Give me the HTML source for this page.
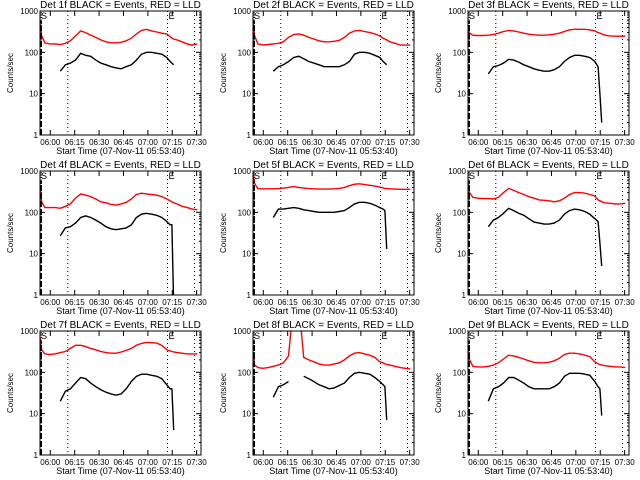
<!DOCTYPE html>
<html><head><meta charset="utf-8"><style>
html,body{margin:0;padding:0;background:#fff;}
svg{display:block;font-family:"Liberation Sans",sans-serif;}
</style></head><body>
<svg id="c" width="640" height="480"></svg>
<script>
const T=[0,1,3,6,9.4,12.5,15.6,18.7,21.8,25,28.1,31.2,34.3,37.4,40.6,43.7,46.8,49.9,53,56.2,59.3,62.4,65.5,68.6,71.8,74.9,78,80,81.1,82.2,84.2,87.4,90.5,93.6,96.7];
const n=null;
const titles=["Det 1f","Det 2f","Det 3f","Det 4f","Det 5f","Det 6f","Det 7f","Det 8f","Det 9f"];
const xTickLabels=["06:00","06:15","06:30","06:45","07:00","07:15","07:30"];
const xTickTimes=[6.33,21.33,36.33,51.33,66.33,81.33,96.33];
const yTickLabels=["1","10","100","1000"];
const yTickValues=[1,10,100,1000];
const markerTimes=[17.1,78.4,95];
const red1=[600,250,170,160,160,155,165,190,250,330,300,260,230,200,180,170,170,175,190,220,280,340,360,330,310,290,280,240,220,210,200,180,160,150,160];
const blk1=[n,n,n,n,n,35,50,55,65,95,85,80,65,55,50,45,42,40,45,50,65,90,100,100,95,90,75,60,55,50,n,n,n,n,n];
const red2=[600,250,160,150,155,160,165,180,230,270,280,260,230,210,190,180,180,185,195,230,290,330,340,320,300,280,250,220,210,200,180,165,150,150,150];
const blk2=[n,n,n,n,n,35,45,50,60,75,80,70,60,55,50,45,45,45,45,50,60,90,100,100,95,85,75,60,55,50,n,n,n,n,n];
const red3=[400,290,260,255,255,260,270,290,320,340,330,310,290,275,265,260,260,265,275,290,320,350,360,360,360,350,330,300,290,280,260,250,245,245,245];
const blk3=[n,n,n,n,n,30,45,48,55,68,65,58,50,45,40,37,35,35,38,45,60,75,85,85,80,75,60,45,10,2,n,n,n,n,n];
const red4=[450,180,130,130,130,125,140,160,220,280,260,240,210,180,170,155,150,160,175,210,270,290,280,270,260,240,210,190,180,170,160,140,130,120,115];
const blk4=[n,n,n,n,n,27,42,45,55,75,82,75,65,55,45,40,38,40,42,50,75,90,95,90,85,75,60,50,50,0.5,n,n,n,n,n];
const red5=[1000,500,370,370,370,370,375,385,400,420,400,385,375,370,365,365,365,370,380,400,440,480,490,470,450,430,410,390,380,375,370,365,360,360,360];
const blk5=[n,n,n,n,n,75,120,120,125,130,125,115,110,105,100,100,100,100,105,110,130,160,175,175,165,150,130,120,110,13,n,n,n,n,n];
const red6=[600,300,230,220,215,215,210,230,300,380,340,300,270,240,220,200,195,190,180,190,220,270,300,300,290,270,250,200,190,180,170,165,160,160,165];
const blk6=[n,n,n,n,n,45,65,75,95,125,110,95,85,70,58,55,52,52,55,65,90,110,120,115,105,90,70,60,18,5,n,n,n,n,n];
const red7=[700,350,280,270,280,300,320,380,450,450,420,380,350,320,300,290,290,310,340,380,450,500,530,520,510,450,350,330,320,310,300,290,280,280,280];
const blk7=[n,n,n,n,n,20,35,40,55,75,70,55,45,38,33,30,28,30,40,60,80,90,90,85,80,70,50,40,40,4,n,n,n,n,n];
const red8=[300,150,130,125,130,140,150,170,250,5000,5000,230,200,180,160,150,150,160,170,200,250,290,300,280,260,230,180,170,160,155,150,140,130,125,120];
const blk8=[n,n,n,n,n,25,45,50,60,n,n,80,70,60,50,45,40,42,48,55,75,95,100,95,90,75,60,50,45,7,n,n,n,n,n];
const red9=[400,200,140,135,135,140,150,170,210,260,250,230,210,190,175,170,170,175,190,220,270,290,290,280,260,240,180,160,155,150,145,140,135,135,130];
const blk9=[n,n,n,n,n,20,40,45,55,75,75,65,55,45,40,40,40,40,45,55,80,95,95,95,90,85,60,45,40,9,n,n,n,n,n];
const reds=[red1,red2,red3,red4,red5,red6,red7,red8,red9];
const blks=[blk1,blk2,blk3,blk4,blk5,blk6,blk7,blk8,blk9];

const NS="http://www.w3.org/2000/svg";
const svg=document.getElementById('c');
function mk(tag,attrs,parent){const e=document.createElementNS(NS,tag);for(const k in attrs)e.setAttribute(k,attrs[k]);parent.appendChild(e);return e;}
const colX=[40,253,468], rowY=[11,171,331], W=161, H=124, TMAX=99;
for(let p=0;p<9;p++){
  const x0=colX[p%3], y0=rowY[Math.floor(p/3)];
  const sx=t=>x0+t/TMAX*W;
  const sy=v=>y0+H-(Math.log10(v))/3*H;
  const g=mk('g',{},svg);
  
  
  const cp=mk('clipPath',{id:'cp'+p},g);
  mk('rect',{x:x0,y:y0,width:W,height:H},cp);
  const tt=mk('text',{x:x0+W/2,y:y0-3,'text-anchor':'middle','font-size':10},g);
  tt.textContent=titles[p]+" BLACK = Events, RED = LLD";
  
  
  const yl=mk('text',{x:0,y:0,'text-anchor':'middle','font-size':8,transform:`translate(${x0-27},${y0+H/2}) rotate(-90)`},g);
  yl.textContent="Counts/sec";
  
  
  const xl=mk('text',{x:x0+W/2,y:y0+H+19,'text-anchor':'middle','font-size':9},g);
  xl.textContent="Start Time (07-Nov-11 05:53:40)";
  
  
  for(let i=0;i<yTickValues.length;i++){
    const y=sy(yTickValues[i]);
    const lb=mk('text',{x:x0-2,y:y+3,'text-anchor':'end','font-size':8},g);
    lb.textContent=yTickLabels[i];
    
    
    mk('line',{x1:x0,x2:x0+5,y1:y,y2:y,stroke:'#000'},g);
    mk('line',{x1:x0+W-5,x2:x0+W,y1:y,y2:y,stroke:'#000'},g);
    if(i<3)for(let m=2;m<10;m++){const ym=sy(yTickValues[i]*m);
      mk('line',{x1:x0,x2:x0+2,y1:ym,y2:ym,stroke:'#000'},g);
      mk('line',{x1:x0+W-2,x2:x0+W,y1:ym,y2:ym,stroke:'#000'},g);}
  }
  for(let i=0;i<xTickTimes.length;i++){
    const x=sx(xTickTimes[i]);
    const lb=mk('text',{x:x,y:y0+H+10,'text-anchor':'middle','font-size':8},g);
    lb.textContent=xTickLabels[i];
    
    
    mk('line',{x1:x,x2:x,y1:y0+H,y2:y0+H-5,stroke:'#000'},g);
    mk('line',{x1:x,x2:x,y1:y0,y2:y0+5,stroke:'#000'},g);
  }
  for(const mt of markerTimes){const x=sx(mt);
    mk('line',{x1:x,x2:x,y1:y0,y2:y0+H,stroke:'#000','stroke-dasharray':'1,3'},g);}
  const s=mk('text',{x:x0+1,y:y0+8,'font-size':9},g);s.textContent="S";
  
  const e=mk('text',{x:sx(markerTimes[1])+1,y:y0+8,'font-size':9},g);e.textContent="E";
  
  function series(arr,color,name){
    let d='',pen=false;
    for(let i=0;i<T.length;i++){
      if(arr[i]===null){pen=false;continue;}
      d+=(pen?'L':'M')+sx(T[i]).toFixed(1)+','+sy(arr[i]).toFixed(1);pen=true;
    }
    const pth=mk('path',{d:d,fill:'none',stroke:color,'stroke-width':1.4,'clip-path':`url(#cp${p})`},g);
    
    
  }
  series(reds[p],'#ff0000','lld-series');
  series(blks[p],'#000','events-series');
  mk('line',{x1:x0+1,x2:x0+1,y1:y0+H,y2:y0+10,stroke:'#000','stroke-width':2,'stroke-dasharray':'6,2'},g);
  const fr=mk('rect',{x:x0,y:y0,width:W,height:H,fill:'none',stroke:'#000'},g);
  
  
}
</script>
</body></html>
